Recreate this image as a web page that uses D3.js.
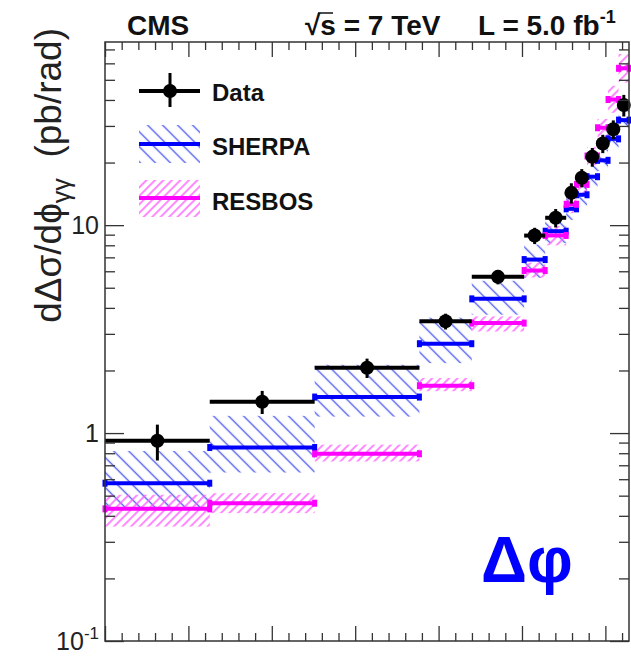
<!DOCTYPE html>
<html>
<head>
<meta charset="utf-8">
<script src="https://cdn.jsdelivr.net/npm/d3@7"></script>
<style>
    body { margin: 0; background: #fff; }
    svg text { font-family: "Liberation Sans", Arial, Helvetica, sans-serif; }
</style>
</head>
<body>
<div id="chart"></div>
<script>

// Bin edges in delta phi (rad)
const binEdges = [0, 0.628, 1.257, 1.885, 2.199, 2.513, 2.639, 2.765, 2.827, 2.890, 2.953, 3.016, 3.079, 3.142];

// Measured cross section
const dataValues = [0.918, 1.415, 2.06, 3.45, 5.64, 8.91, 10.85, 14.3, 16.9, 21.3, 24.7, 28.9, 37.8];
const dataErrors = [0.18, 0.18, 0.22, 0.30, 0.45, 0.8, 1.1, 1.6, 1.7, 2.2, 2.5, 3.0, 4.5];

// SHERPA prediction and band
const sherpaValues = [0.574, 0.852, 1.49, 2.69, 4.42, 6.83, 9.35, 11.98, 14.0, 17.1, 20.5, 26.0, 32.0];
const sherpaLow = [0.44, 0.646, 1.20, 2.17, 3.71, 5.58, 8.2, 10.6, 12.4, 15.2, 18.2, 23.0, 28.3];
const sherpaHigh = [0.82, 1.21, 2.13, 3.59, 5.40, 8.06, 10.6, 13.5, 15.8, 19.3, 23.1, 29.3, 36.0];

// RESBOS prediction and band
const resbosValues = [0.432, 0.460, 0.795, 1.69, 3.38, 6.05, 8.92, 12.6, 15.7, 21.5, 29.4, 40.2, 56.8];
const resbosLow = [0.355, 0.412, 0.73, 1.59, 3.08, 5.6, 8.0, 11.4, 14.2, 19.4, 26.5, 34.7, 48.5];
const resbosHigh = [0.505, 0.514, 0.88, 1.84, 3.64, 6.6, 9.9, 13.9, 17.3, 23.7, 32.4, 46.8, 66.5];

// Axis ticks
const yTickValues = [0.1, 1, 10];
const yTickLabels = [["10", "-1"], ["1", ""], ["10", ""]];
const xMajorTicks = [0, 0.5, 1, 1.5, 2, 2.5, 3];

// Configure

const width = 631, height = 657;
const frame = { left: 105, right: 629, top: 42, bottom: 641 };
const design = {
    blue: "#0000ff",
    magenta: "#ff00ff",
    axis: "#333",
};

const svg = d3.select("#chart").append("svg")
    .attr("width", width)
    .attr("height", height);

// Scales

const x = d3.scaleLinear().domain([0, Math.PI]).range([frame.left, frame.right]);
const y = d3.scaleLog().domain([0.1, 76]).range([frame.bottom, frame.top]);

const rows = dataValues.map((v, i) => ({
    lo: binEdges[i], hi: binEdges[i + 1],
    data: v, err: dataErrors[i],
    sherpa: sherpaValues[i], sLo: sherpaLow[i], sHi: sherpaHigh[i],
    resbos: resbosValues[i], rLo: resbosLow[i], rHi: resbosHigh[i],
}));

// Hatch patterns

const defs = svg.append("defs");
defs.append("pattern")
    .attr("id", "hatchBlue")
    .attr("patternUnits", "userSpaceOnUse")
    .attr("width", 10.6).attr("height", 10.6)
    .attr("patternTransform", "rotate(45)")
    .append("line")
    .attr("x1", 0).attr("x2", 10.6).attr("y1", 5.3).attr("y2", 5.3)
    .attr("stroke", "#4f5cf2").attr("stroke-width", 1.4);
defs.append("pattern")
    .attr("id", "hatchMagenta")
    .attr("patternUnits", "userSpaceOnUse")
    .attr("width", 6).attr("height", 6)
    .attr("patternTransform", "rotate(-45)")
    .append("line")
    .attr("x1", 0).attr("x2", 6).attr("y1", 3).attr("y2", 3)
    .attr("stroke", "#ff55ff").attr("stroke-width", 1.4);

// Bands

svg.append("g").selectAll("rect").data(rows).enter().append("rect")
    .attr("x", r => x(r.lo)).attr("width", r => x(r.hi) - x(r.lo))
    .attr("y", r => y(r.sHi)).attr("height", r => y(r.sLo) - y(r.sHi))
    .attr("fill", "url(#hatchBlue)");

svg.append("g").selectAll("rect").data(rows).enter().append("rect")
    .attr("x", r => x(r.lo)).attr("width", r => x(r.hi) - x(r.lo))
    .attr("y", r => y(r.rHi)).attr("height", r => y(r.rLo) - y(r.rHi))
    .attr("fill", "url(#hatchMagenta)");

// Prediction lines with end caps

function drawModel(key, color) {
    const g = svg.append("g");
    g.selectAll("line").data(rows).enter().append("line")
        .attr("x1", r => x(r.lo)).attr("x2", r => x(r.hi))
        .attr("y1", r => y(r[key])).attr("y2", r => y(r[key]))
        .attr("stroke", color).attr("stroke-width", 4);
    rows.forEach(r => {
        [r.lo, r.hi].forEach(e => {
            g.append("rect")
                .attr("x", x(e) - 2.5).attr("width", 5)
                .attr("y", y(r[key]) - 3.5).attr("height", 7)
                .attr("fill", color);
        });
    });
}
drawModel("sherpa", design.blue);
drawModel("resbos", design.magenta);

// Data points

const dataG = svg.append("g");
dataG.selectAll(".hbar").data(rows).enter().append("line")
    .attr("x1", r => x(r.lo)).attr("x2", r => x(r.hi))
    .attr("y1", r => y(r.data)).attr("y2", r => y(r.data))
    .attr("stroke", "#000").attr("stroke-width", 4);
dataG.selectAll(".vbar").data(rows).enter().append("line")
    .attr("x1", r => x((r.lo + r.hi) / 2)).attr("x2", r => x((r.lo + r.hi) / 2))
    .attr("y1", r => y(r.data - r.err)).attr("y2", r => y(r.data + r.err))
    .attr("stroke", "#000").attr("stroke-width", 3);
dataG.selectAll("circle").data(rows).enter().append("circle")
    .attr("cx", r => x((r.lo + r.hi) / 2)).attr("cy", r => y(r.data))
    .attr("r", 7).attr("fill", "#000");

// Axes (ticks inside the frame, on all four sides)

const yMinor = [];
[0.1, 1, 10].forEach(d => d3.range(2, 10).forEach(k => { if (k * d < 76) yMinor.push(k * d); }));
const xMinor = d3.range(0, 32).map(k => k / 10).filter(v => Math.round(v * 10) % 5 !== 0);

function axisGroup(axis, tx, ty) {
    const g = svg.append("g").attr("transform", `translate(${tx},${ty})`).call(axis);
    g.select(".domain").remove();
    g.selectAll("line").attr("stroke", design.axis).attr("stroke-width", 1.3);
    g.selectAll("text").remove();
}
axisGroup(d3.axisLeft(y).tickValues(yTickValues).tickSize(-19), frame.left, 0);
axisGroup(d3.axisLeft(y).tickValues(yMinor).tickSize(-10), frame.left, 0);
axisGroup(d3.axisRight(y).tickValues(yTickValues).tickSize(-19), frame.right, 0);
axisGroup(d3.axisRight(y).tickValues(yMinor).tickSize(-10), frame.right, 0);
axisGroup(d3.axisBottom(x).tickValues(xMajorTicks).tickSize(-15), 0, frame.bottom);
axisGroup(d3.axisBottom(x).tickValues(xMinor).tickSize(-8), 0, frame.bottom);
axisGroup(d3.axisTop(x).tickValues(xMajorTicks).tickSize(-15), 0, frame.top);
axisGroup(d3.axisTop(x).tickValues(xMinor).tickSize(-8), 0, frame.top);

svg.append("rect")
    .attr("x", frame.left).attr("y", frame.top)
    .attr("width", frame.right - frame.left).attr("height", frame.bottom - frame.top)
    .attr("fill", "none").attr("stroke", design.axis).attr("stroke-width", 1.5);

// Y tick labels

yTickValues.forEach((v, i) => {
    const t = svg.append("text")
        .attr("x", frame.left - 6).attr("y", y(v) + 9)
        .attr("text-anchor", "end")
        .attr("font-size", 25).attr("fill", "#222");
    t.append("tspan").text(yTickLabels[i][0]);
    if (yTickLabels[i][1]) {
        t.append("tspan").attr("dy", -11).attr("font-size", 17).text(yTickLabels[i][1]);
    }
});

// Y axis title

const yTitle = svg.append("text")
    .attr("transform", "translate(61,28) rotate(-90)")
    .attr("text-anchor", "end")
    .attr("font-size", 37).attr("fill", "#222");
yTitle.append("tspan").text("dΔσ/dϕ");
yTitle.append("tspan").attr("dy", 9).attr("font-size", 25).text("γγ");
yTitle.append("tspan").attr("dy", -9).text("\u00a0\u00a0(pb/rad)");

// Header

svg.append("text").attr("x", 127).attr("y", 35)
    .attr("font-size", 28).attr("font-weight", "bold").attr("fill", "#111")
    .text("CMS");
svg.append("text").attr("x", 305).attr("y", 35)
    .attr("font-size", 28).attr("font-weight", "bold").attr("fill", "#111")
    .text("√s = 7 TeV");
svg.append("line")
    .attr("x1", 318).attr("x2", 333).attr("y1", 13).attr("y2", 13)
    .attr("stroke", "#111").attr("stroke-width", 1.5);
const lumi = svg.append("text").attr("x", 478).attr("y", 35)
    .attr("font-size", 28).attr("font-weight", "bold").attr("fill", "#111");
lumi.append("tspan").text("L = 5.0 fb");
lumi.append("tspan").attr("dy", -12).attr("font-size", 18).text("-1");

// Legend

const legend = svg.append("g");
legend.append("line").attr("x1", 139).attr("x2", 200).attr("y1", 91).attr("y2", 91)
    .attr("stroke", "#000").attr("stroke-width", 4);
legend.append("line").attr("x1", 170).attr("x2", 170).attr("y1", 73).attr("y2", 107)
    .attr("stroke", "#000").attr("stroke-width", 3);
legend.append("circle").attr("cx", 170).attr("cy", 91).attr("r", 7).attr("fill", "#000");

legend.append("rect").attr("x", 139).attr("y", 125).attr("width", 61).attr("height", 38)
    .attr("fill", "url(#hatchBlue)");
legend.append("line").attr("x1", 139).attr("x2", 200).attr("y1", 144).attr("y2", 144)
    .attr("stroke", design.blue).attr("stroke-width", 4);

legend.append("rect").attr("x", 139).attr("y", 180).attr("width", 61).attr("height", 37)
    .attr("fill", "url(#hatchMagenta)");
legend.append("line").attr("x1", 139).attr("x2", 200).attr("y1", 198).attr("y2", 198)
    .attr("stroke", design.magenta).attr("stroke-width", 4);

[["Data", 101], ["SHERPA", 155], ["RESBOS", 210]].forEach(([label, yy]) => {
    legend.append("text").attr("x", 212).attr("y", yy)
        .attr("font-size", 24).attr("font-weight", "bold").attr("fill", "#111")
        .text(label);
});

// Variable label

svg.append("text").attr("x", 481).attr("y", 582)
    .attr("font-size", 64).attr("font-weight", "bold").attr("fill", design.blue)
    .text("Δφ");

</script>
</body>
</html>
